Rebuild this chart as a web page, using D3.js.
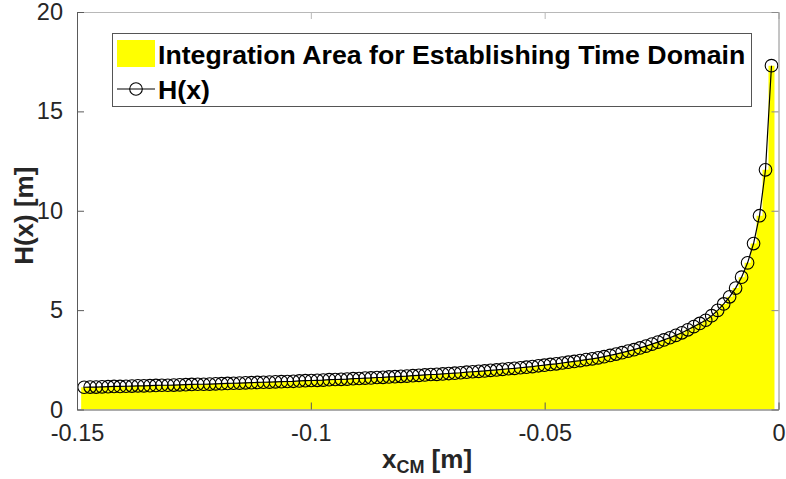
<!DOCTYPE html>
<html>
<head>
<meta charset="utf-8">
<script src="https://cdn.jsdelivr.net/npm/d3@7"></script>
<style>
  html, body { margin: 0; padding: 0; background: #fff; }
  svg { display: block; font-family: "Liberation Sans", Arial, Helvetica, sans-serif; }
</style>
</head>
<body>
<svg id="chart" width="786" height="479"></svg>
<script>
// Sample positions x_CM [m]
const xCM = [
  -0.14847, -0.14719, -0.14591, -0.14464, -0.14336, -0.14208, -0.14080, -0.13952, -0.13825, -0.13697,
  -0.13569, -0.13441, -0.13313, -0.13186, -0.13058, -0.12930, -0.12802, -0.12674, -0.12547, -0.12419,
  -0.12291, -0.12163, -0.12035, -0.11908, -0.11780, -0.11652, -0.11524, -0.11396, -0.11269, -0.11141,
  -0.11013, -0.10885, -0.10757, -0.10630, -0.10502, -0.10374, -0.10246, -0.10118, -0.09991, -0.09863,
  -0.09735, -0.09607, -0.09479, -0.09352, -0.09224, -0.09096, -0.08968, -0.08840, -0.08713, -0.08585,
  -0.08457, -0.08329, -0.08201, -0.08074, -0.07946, -0.07818, -0.07690, -0.07562, -0.07435, -0.07307,
  -0.07179, -0.07051, -0.06923, -0.06796, -0.06668, -0.06540, -0.06412, -0.06284, -0.06157, -0.06029,
  -0.05901, -0.05773, -0.05645, -0.05518, -0.05390, -0.05262, -0.05134, -0.05006, -0.04879, -0.04751,
  -0.04623, -0.04495, -0.04367, -0.04240, -0.04112, -0.03984, -0.03856, -0.03728, -0.03601, -0.03473,
  -0.03345, -0.03217, -0.03089, -0.02962, -0.02834, -0.02706, -0.02578, -0.02450, -0.02323, -0.02195,
  -0.02067, -0.01939, -0.01811, -0.01684, -0.01556, -0.01428, -0.01300, -0.01172, -0.01045, -0.00917,
  -0.00789, -0.00661, -0.00533, -0.00406, -0.00278, -0.00150
];

// H(x) [m] at each sample position
const Hx = [
  1.12, 1.13, 1.13, 1.14, 1.15, 1.16, 1.16, 1.17, 1.18, 1.19,
  1.19, 1.20, 1.21, 1.22, 1.22, 1.23, 1.24, 1.25, 1.26, 1.27,
  1.27, 1.28, 1.29, 1.30, 1.31, 1.32, 1.33, 1.34, 1.35, 1.36,
  1.37, 1.38, 1.39, 1.40, 1.41, 1.42, 1.44, 1.45, 1.46, 1.47,
  1.48, 1.50, 1.51, 1.52, 1.53, 1.55, 1.56, 1.58, 1.59, 1.61,
  1.62, 1.64, 1.65, 1.67, 1.68, 1.70, 1.72, 1.74, 1.76, 1.77,
  1.79, 1.81, 1.83, 1.85, 1.88, 1.90, 1.92, 1.94, 1.97, 1.99,
  2.02, 2.05, 2.07, 2.10, 2.13, 2.16, 2.20, 2.23, 2.27, 2.30,
  2.34, 2.38, 2.42, 2.46, 2.51, 2.55, 2.60, 2.66, 2.72, 2.79,
  2.86, 2.94, 3.01, 3.10, 3.19, 3.29, 3.39, 3.50, 3.61, 3.73,
  3.86, 4.01, 4.17, 4.33, 4.49, 4.72, 4.99, 5.31, 5.67, 6.11,
  6.66, 7.38, 8.35, 9.75, 12.06, 17.30
];

const xTicks = [-0.15, -0.1, -0.05, 0];
const xTickLabels = ["-0.15", "-0.1", "-0.05", "0"];
const yTicks = [0, 5, 10, 15, 20];
const yTickLabels = ["0", "5", "10", "15", "20"];

const legendArea = "Integration Area for Establishing Time Domain";
const legendLine = "H(x)";

const svg = d3.select("#chart");
const plot = { left: 77, right: 778.5, top: 12, bottom: 409.5 };

const x = d3.scaleLinear().domain([-0.15, 0]).range([plot.left, plot.right]);
const y = d3.scaleLinear().domain([0, 20]).range([plot.bottom, plot.top]);

const pts = xCM.map((v, i) => ({ x: v, h: Hx[i] }));

svg.append("defs").append("clipPath").attr("id", "plotClip")
  .append("rect")
  .attr("x", plot.left).attr("y", plot.top)
  .attr("width", plot.right - plot.left).attr("height", plot.bottom - plot.top);

// Integration area: one bar per sample, each as wide as the sample spacing
const step = xCM[1] - xCM[0];
const stepPts = pts.map(p => ({ x: p.x - step / 2, h: p.h }));
stepPts.push({ x: pts[pts.length - 1].x + step / 2, h: pts[pts.length - 1].h });

const area = d3.area()
  .curve(d3.curveStepAfter)
  .x(d => x(d.x))
  .y0(y(0))
  .y1(d => y(d.h));

const g = svg.append("g").attr("clip-path", "url(#plotClip)");
g.append("path").datum(stepPts).attr("d", area).attr("fill", "#ffff00");

// H(x) line with open circle markers
const markerR = 6.3;
const line = d3.line().x(d => x(d.x)).y(d => y(d.h));
svg.append("path").datum(pts).attr("d", line)
  .attr("fill", "none").attr("stroke", "#000").attr("stroke-width", 1.2);

svg.append("g").selectAll("circle").data(pts).join("circle")
  .attr("cx", d => x(d.x)).attr("cy", d => y(d.h)).attr("r", markerR)
  .attr("fill", "none").attr("stroke", "#000").attr("stroke-width", 1.1);

// Axes box and ticks (inward, on all four sides)
const axisColor = "#5a5a5a";
const tickLen = 7;
const xAxisB = d3.axisBottom(x).tickValues(xTicks).tickSizeInner(-tickLen).tickSizeOuter(0)
  .tickFormat((d, i) => xTickLabels[i]).tickPadding(15);
const xAxisT = d3.axisTop(x).tickValues(xTicks).tickSizeInner(-tickLen).tickSizeOuter(0).tickFormat("");
const yAxisL = d3.axisLeft(y).tickValues(yTicks).tickSizeInner(-tickLen).tickSizeOuter(0)
  .tickFormat((d, i) => yTickLabels[i]).tickPadding(14);
const yAxisR = d3.axisRight(y).tickValues(yTicks).tickSizeInner(-tickLen).tickSizeOuter(0).tickFormat("");

function styleAxis(sel, color) {
  sel.select(".domain").attr("stroke", color);
  sel.selectAll(".tick line").attr("stroke", color);
  sel.selectAll(".tick text").attr("fill", "#262626").style("font-size", "23.5px")
    .style("font-family", "'Liberation Sans', Arial, sans-serif");
}

svg.append("g").attr("transform", `translate(0,${plot.top})`).call(xAxisT).call(s => styleAxis(s, "#b8b8b8"));
svg.append("g").attr("transform", `translate(${plot.right},0)`).call(yAxisR).call(s => styleAxis(s, "#8a8a8a"));
svg.append("g").attr("transform", `translate(0,${plot.bottom})`).call(xAxisB).call(s => styleAxis(s, axisColor));
svg.append("g").attr("transform", `translate(${plot.left},0)`).call(yAxisL).call(s => styleAxis(s, axisColor));

// Axis titles
const xt = svg.append("text").attr("x", 427).attr("y", 468)
  .attr("text-anchor", "middle").attr("font-weight", "bold").attr("font-size", 26).attr("fill", "#262626");
xt.append("tspan").text("x");
xt.append("tspan").attr("font-size", 18).attr("dy", 5).text("CM");
xt.append("tspan").attr("dy", -5).text(" [m]");

svg.append("text")
  .attr("transform", `translate(33,${(plot.top + plot.bottom) / 2 + 5}) rotate(-90)`)
  .attr("text-anchor", "middle").attr("font-weight", "bold").attr("font-size", 26).attr("fill", "#262626")
  .text("H(x) [m]");

// Legend
const lg = svg.append("g");
lg.append("rect").attr("x", 112.5).attr("y", 33.5).attr("width", 639).attr("height", 73)
  .attr("fill", "#fff").attr("stroke", "#555").attr("stroke-width", 1);
lg.append("rect").attr("x", 117).attr("y", 40).attr("width", 38).attr("height", 27).attr("fill", "#ffff00");
lg.append("text").attr("x", 158).attr("y", 64).attr("font-weight", "bold").attr("font-size", 26.7)
  .attr("fill", "#000").text(legendArea);
lg.append("line").attr("x1", 117).attr("x2", 155).attr("y1", 89).attr("y2", 89)
  .attr("stroke", "#000").attr("stroke-width", 1.2);
lg.append("circle").attr("cx", 136).attr("cy", 89).attr("r", markerR)
  .attr("fill", "none").attr("stroke", "#000").attr("stroke-width", 1.1);
lg.append("text").attr("x", 158).attr("y", 99).attr("font-weight", "bold").attr("font-size", 26.7)
  .attr("fill", "#000").text(legendLine);
</script>
</body>
</html>
